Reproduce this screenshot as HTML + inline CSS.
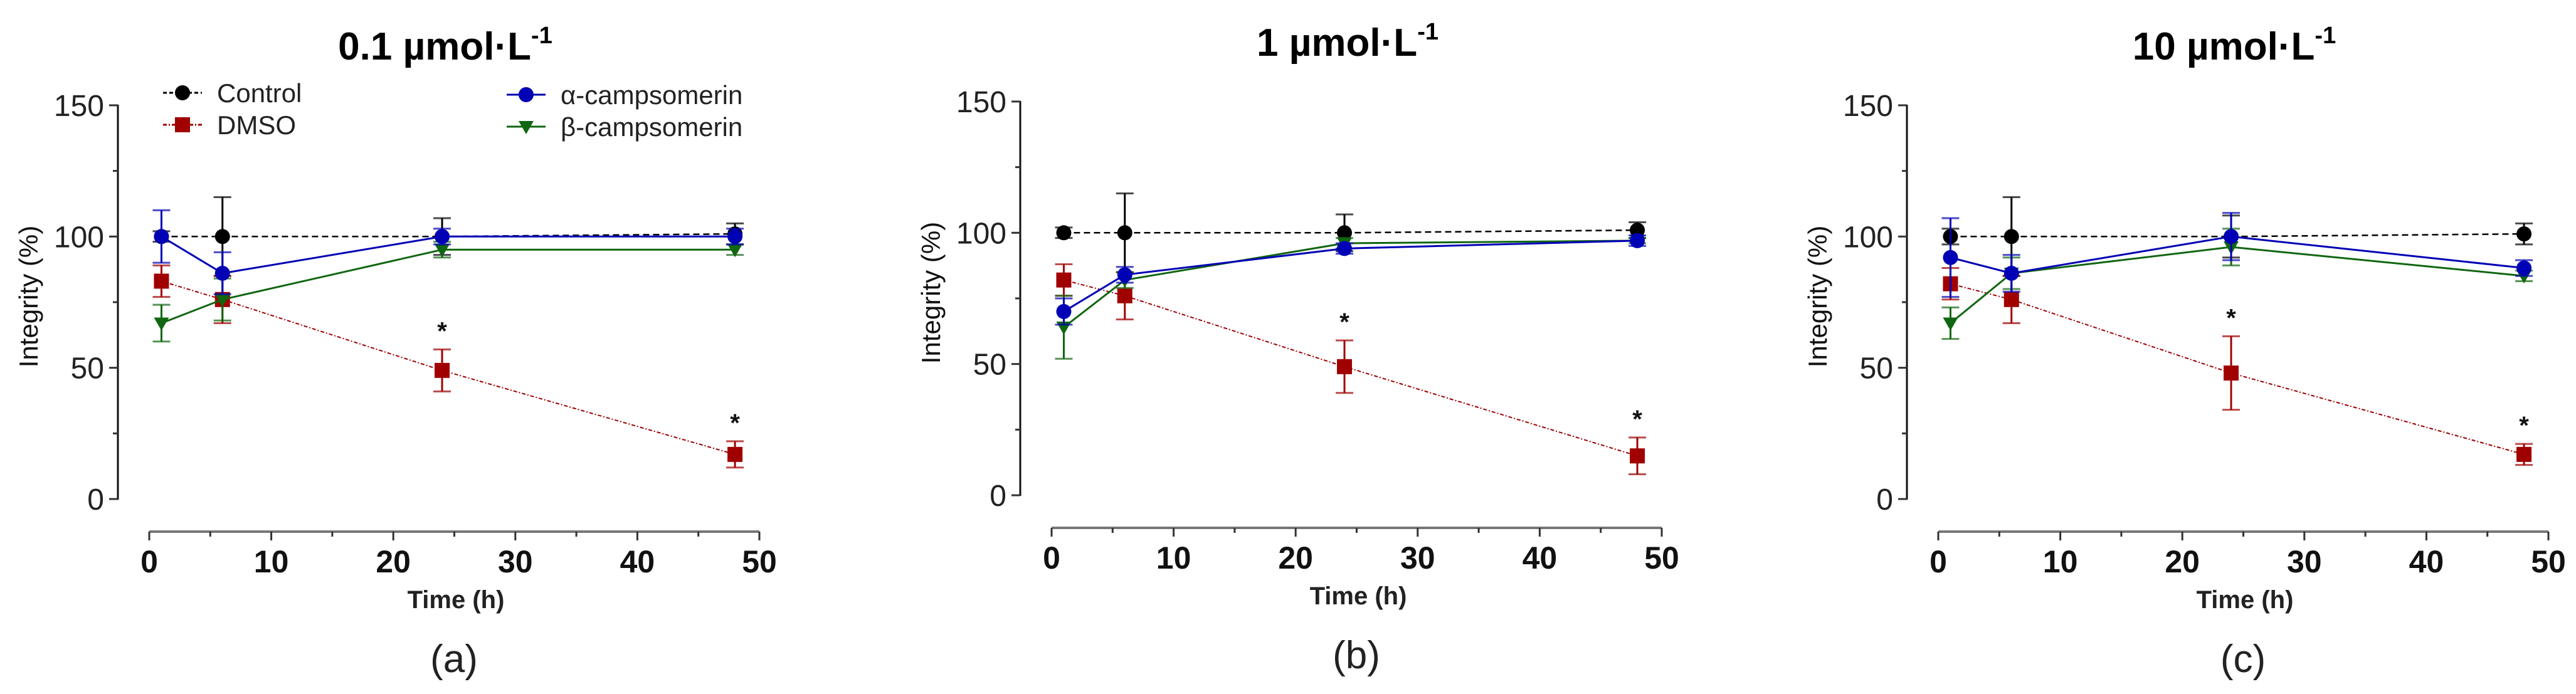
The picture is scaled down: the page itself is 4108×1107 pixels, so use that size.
<!DOCTYPE html>
<html><head><meta charset="utf-8"><style>
html,body{margin:0;padding:0;background:#fff;}
svg{display:block;}
text{font-family:"Liberation Sans",Arial,sans-serif;}
</style></head><body>
<svg id="fig" width="4108" height="1107" viewBox="0 0 4108 1107" xmlns="http://www.w3.org/2000/svg"></svg>
<script>
const times = [1, 6, 24, 48];
const panelTitles = ["0.1", "1", "10"];
const panelLetters = ["(a)", "(b)", "(c)"];
const yTicks = [0, 50, 100, 150];
const xTicks = [0, 10, 20, 30, 40, 50];
const controlA = [100, 100, 100, 101];
const controlAErr = [2, 15, 7, 4];
const dmsoA = [83, 76, 49, 17];
const dmsoAErr = [6, 9, 8, 5];
const alphaA = [100, 86, 100, 100];
const alphaAErr = [10, 8, 3, 3];
const betaA = [67, 76, 95, 95];
const betaAErr = [7, 8, 3, 2];
const controlB = [100, 100, 100, 101];
const controlBErr = [2, 15, 7, 3];
const dmsoB = [82, 76, 49, 15];
const dmsoBErr = [6, 9, 10, 7];
const alphaB = [70, 84, 94, 97];
const alphaBErr = [5, 3, 2, 2];
const betaB = [64, 82, 96, 97];
const betaBErr = [12, 3, 2, 1];
const controlC = [100, 100, 100, 101];
const controlCErr = [3, 15, 8, 4];
const dmsoC = [82, 76, 48, 17];
const dmsoCErr = [6, 9, 14, 4];
const alphaC = [92, 86, 100, 88];
const alphaCErr = [15, 7, 9, 3];
const betaC = [67, 86, 96, 85];
const betaCErr = [6, 6, 7, 2];
const starTimes = [24, 48];

const NS = "http://www.w3.org/2000/svg";
const svg = document.getElementById("fig");
function el(tag, attrs, parent, txt) {
  const e = document.createElementNS(NS, tag);
  for (const k in attrs) e.setAttribute(k, attrs[k]);
  if (txt !== undefined) e.textContent = txt;
  (parent || svg).appendChild(e);
  return e;
}
const panels = [
  {dx: 0, dy: 0, d: [controlA, controlAErr, dmsoA, dmsoAErr, alphaA, alphaAErr, betaA, betaAErr]},
  {dx: 1439, dy: -6, d: [controlB, controlBErr, dmsoB, dmsoBErr, alphaB, alphaBErr, betaB, betaBErr]},
  {dx: 2853, dy: 0, d: [controlC, controlCErr, dmsoC, dmsoCErr, alphaC, alphaCErr, betaC, betaCErr]}
];
const colors = {control: "#000", dmso: "#a00000", alpha: "#0000b4", beta: "#116611"};

function marker(g, kind, x, y) {
  let m;
  if (kind === "control") m = el("circle", {cx: x, cy: y, r: 12, fill: colors.control}, g);
  else if (kind === "dmso") m = el("rect", {x: x - 12, y: y - 12, width: 24, height: 24, fill: colors.dmso}, g);
  else if (kind === "alpha") m = el("circle", {cx: x, cy: y, r: 12, fill: colors.alpha}, g);
  else m = el("polygon", {points: `${x-12},${y-9} ${x+12},${y-9} ${x},${y+12}`, fill: colors.beta}, g);
  return m;
}

panels.forEach((p, pi) => {
  const g = el("g", {transform: `translate(${p.dx},${p.dy})`});
  
  
  const X = v => 238 + v * 19.46;
  const Y = v => 796 - v * 4.187;
  const t = el("text", {x: 710, y: 95, "text-anchor": "middle", "font-size": 62, "font-weight": "bold"}, g);
  
  
  el("tspan", {}, t, panelTitles[pi] + " \u00b5mol\u00b7L");
  el("tspan", {dy: -26, "font-size": 38}, t, "-1");
  const ya = el("line", {x1: 188, y1: Y(150) - 1, x2: 188, y2: Y(0) + 1, stroke: "#111", "stroke-width": 3}, g);
  
  
  for (let v = 0; v <= 150; v += 25) {
    const major = v % 50 === 0;
    el("line", {x1: major ? 174 : 180, y1: Y(v), x2: 188, y2: Y(v), stroke: "#333", "stroke-width": 3}, g);
  }
  yTicks.forEach(v => {
    const tl = el("text", {x: 166, y: Y(v) + 17, "text-anchor": "end", "font-size": 48, fill: "#222"}, g, String(v));
    
    
  });
  const yt = el("text", {x: 0, y: 0, transform: `translate(60,${473}) rotate(-90)`, "text-anchor": "middle", "font-size": 42, fill: "#111"}, g, "Integrity (%)");
  
  
  const xa = el("line", {x1: X(0), y1: 848, x2: X(50), y2: 848, stroke: "#777", "stroke-width": 4}, g);
  
  
  for (let v = 0; v <= 50; v += 5) {
    const major = v % 10 === 0;
    el("line", {x1: X(v), y1: 848, x2: X(v), y2: major ? 862 : 856, stroke: "#333", "stroke-width": 3}, g);
  }
  xTicks.forEach(v => {
    const tl = el("text", {x: X(v), y: 913, "text-anchor": "middle", "font-size": 50, "font-weight": "bold", fill: "#111"}, g, String(v));
    
    
  });
  const xt = el("text", {x: 727, y: 970, "text-anchor": "middle", "font-size": 40, "font-weight": "bold", fill: "#222"}, g, "Time (h)");
  
  
  const lt = el("text", {x: 724, y: 1072, "text-anchor": "middle", "font-size": 62, fill: "#222"}, g, panelLetters[pi]);
  
  

  const series = [
    {k: "control", v: p.d[0], e: p.d[1], dash: "10,6", w: 2.5},
    {k: "dmso", v: p.d[2], e: p.d[3], dash: "6,3,2,3", w: 2},
    {k: "beta", v: p.d[6], e: p.d[7], dash: null, w: 3},
    {k: "alpha", v: p.d[4], e: p.d[5], dash: null, w: 3}
  ];
  series.forEach(s => {
    const sg = el("g", {}, g);
    
    
    const pts = times.map((tm, i) => `${X(tm)},${Y(s.v[i])}`).join(" ");
    const line = el("polyline", {points: pts, fill: "none", stroke: colors[s.k], "stroke-width": s.w}, sg);
    if (s.dash) line.setAttribute("stroke-dasharray", s.dash);
    
    
    times.forEach((tm, i) => {
      const x = X(tm), hi = Y(s.v[i] + s.e[i]), lo = Y(s.v[i] - s.e[i]);
      el("line", {x1: x, y1: hi, x2: x, y2: lo, stroke: colors[s.k], "stroke-width": 3}, sg);
      el("line", {x1: x - 14, y1: hi, x2: x + 14, y2: hi, stroke: colors[s.k], "stroke-width": 3, opacity: 0.7}, sg);
      el("line", {x1: x - 14, y1: lo, x2: x + 14, y2: lo, stroke: colors[s.k], "stroke-width": 3, opacity: 0.7}, sg);
      const m = marker(sg, s.k, x, Y(s.v[i]));
      
      
    });
  });
  starTimes.forEach(tm => {
    const i = times.indexOf(tm);
    const st = el("text", {x: X(tm), y: Y(p.d[2][i] + p.d[3][i]) - 16, "text-anchor": "middle", "font-size": 40, "font-weight": "bold", fill: "#111"}, g, "*");
    
    
  });
  if (pi === 0) {
    const lg = el("g", {}, g);
    
    
    const entries = [
      {k: "control", label: "Control", lx: 260, ly: 148, dash: "6,4"},
      {k: "dmso", label: "DMSO", lx: 260, ly: 199, dash: "6,3,2,3"},
      {k: "alpha", label: "\u03b1-campsomerin", lx: 808, ly: 151, dash: null},
      {k: "beta", label: "\u03b2-campsomerin", lx: 808, ly: 202, dash: null}
    ];
    entries.forEach(en => {
      const eg = el("g", {}, lg);
      
      
      const ln = el("line", {x1: en.lx, y1: en.ly, x2: en.lx + 62, y2: en.ly, stroke: colors[en.k], "stroke-width": 3}, eg);
      if (en.dash) ln.setAttribute("stroke-dasharray", en.dash);
      marker(eg, en.k, en.lx + 31, en.ly);
      el("text", {x: en.lx + 86, y: en.ly + 15, "font-size": 42, fill: "#222"}, eg, en.label);
    });
  }
});
</script>
</body></html>
